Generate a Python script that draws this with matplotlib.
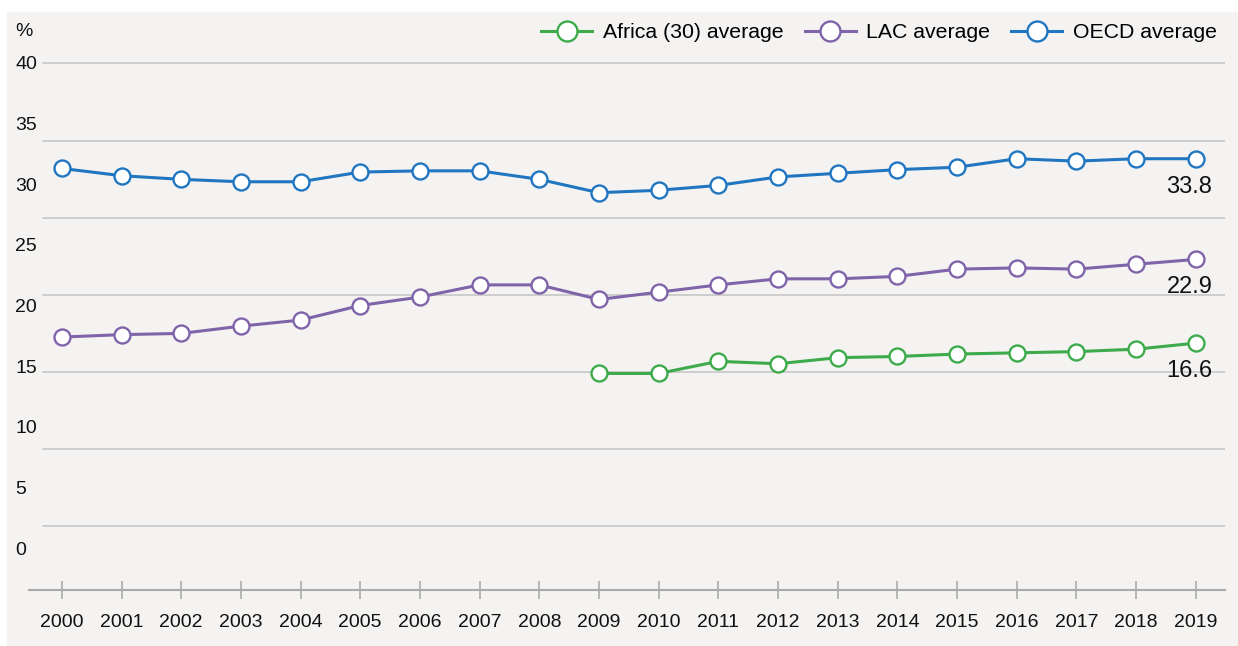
import numpy as np
import matplotlib
matplotlib.use("Agg")
import matplotlib.pyplot as plt
from matplotlib.patches import Rectangle

plt.rcParams['font.family'] = ['Liberation Sans', 'DejaVu Sans']

# data
years = list(range(2000, 2020))
oecd = [31.3, 30.7, 30.4, 30.2, 30.2, 31.0, 31.1, 31.1, 30.4, 29.3,
        29.5, 29.9, 30.6, 30.9, 31.2, 31.4, 32.1, 31.9, 32.1, 32.1]
lac = [17.4, 17.6, 17.7, 18.3, 18.8, 20.0, 20.7, 21.7, 21.7, 20.5,
       21.1, 21.7, 22.2, 22.2, 22.4, 23.0, 23.1, 23.0, 23.4, 23.8]
africa_years = list(range(2009, 2020))
africa = [14.4, 14.4, 15.4, 15.2, 15.7, 15.8, 16.0, 16.1, 16.2, 16.4, 16.9]

end_labels = ["16.6", "22.9", "33.8"]
y_ticks = [0, 5, 10, 15, 20, 25, 30, 35, 40]

W, H = 1238, 646
fig = plt.figure(figsize=(W / 100, H / 100), dpi=100)
fig.patches.append(Rectangle((7 / W, 0), 1, 1 - 12 / H, transform=fig.transFigure,
                             color='#f4f3f2', zorder=-10))

ax = fig.add_axes([29 / W, 1 - 590 / H, (1225 - 29) / W, (590 - 55) / H])
ax.set_facecolor('none')
ax.set_xlim(1999.45, 2019.49)
ax.set_ylim(-3.45, 40.65)

# horizontal grid lines
for g in 39.95 - 6.35 * np.arange(7):
    ax.axhline(g, xmin=0.012, xmax=1, color='#c4c4c4', lw=1.1, zorder=1)

series = [
    (africa_years, africa, '#3dab4b', 'Africa (30) average'),
    (years, lac, '#8064a9', 'LAC average'),
    (years, oecd, '#2176c1', 'OECD average'),
]
for (xs, ys, c, name), lab in zip(series, end_labels):
    ax.plot(xs, ys, color=c, lw=2.2, marker='o', ms=11.5, mfc='white',
            mec=c, mew=1.7, label=name, zorder=3)
    ax.annotate(lab, (xs[-1], ys[-1]), xytext=(12, -20), textcoords='offset points',
                ha='right', va='center', fontsize=17, color='#111111')

for s in ['top', 'right', 'left']:
    ax.spines[s].set_visible(False)
ax.spines['bottom'].set_color('#ababab')
ax.spines['bottom'].set_linewidth(1.5)

ax.set_xticks(years)
ax.tick_params(axis='x', direction='inout', length=13, width=1.2, color='#ababab',
               labelsize=14, pad=11, labelcolor='#111111')
ax.set_yticks(y_ticks)
ax.tick_params(axis='y', length=0, labelsize=14, pad=10, labelcolor='#111111')
for lbl in ax.get_yticklabels():
    lbl.set_ha('left')

fig.text(15 / W, 1 - 31 / H, '%', fontsize=14, va='center', ha='left', color='#111111')

fig.legend(loc='center right', bbox_to_anchor=(1217 / W, 1 - 33 / H), ncol=3,
           frameon=False, fontsize=15.3, handlelength=2.4, handletextpad=0.5,
           columnspacing=1.0, borderpad=0, borderaxespad=0, markerscale=1.25)

fig.savefig('out.png', dpi=100, facecolor='white')
